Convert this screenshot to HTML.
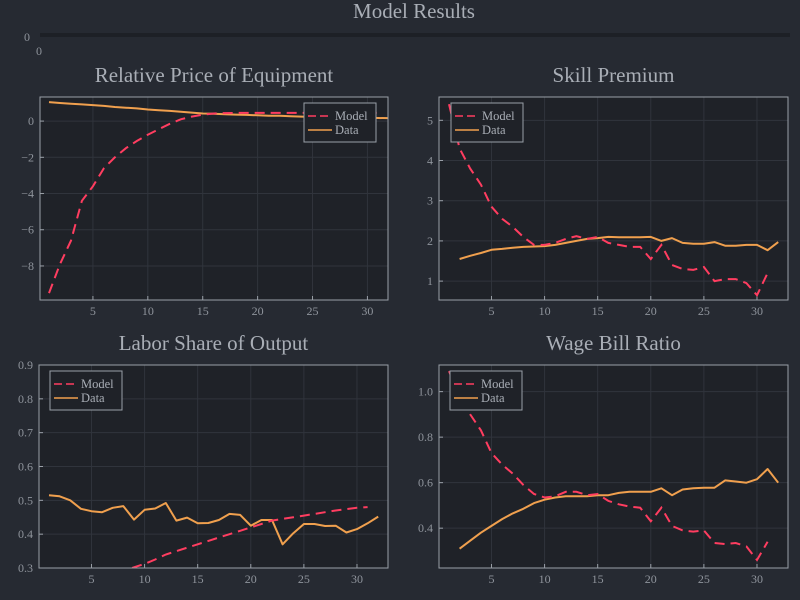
<!DOCTYPE html>
<html><head><meta charset="utf-8"><style>
body{margin:0;background:#262a32;}
svg{display:block;font-family:"Liberation Serif",serif;}
</style></head><body>
<svg id="c" width="800" height="600" viewBox="0 0 800 600">
<rect width="800" height="600" fill="#262a32"/>
<text x="414" y="18" font-size="21" fill="#a9aeb6" text-anchor="middle">Model Results</text>
<rect x="40" y="33" width="750" height="4" fill="#1d2026"/>
<text x="27" y="41" font-size="12" fill="#8f949c" text-anchor="middle">0</text>
<text x="39" y="55" font-size="12" fill="#8f949c" text-anchor="middle">0</text>
</svg>
<script>
const xTicks=[5,10,15,20,25,30];
const p1Model=[-9.5,-7.9,-6.6,-4.4,-3.6,-2.6,-2.0,-1.5,-1.1,-0.75,-0.45,-0.15,0.1,0.25,0.35,0.42,0.44,0.45,0.45,0.45,0.45,0.45,0.45,0.45,0.45,0.45,0.45,0.45,0.45,0.45,0.45];
const p1Data=[1.05,1.0,0.96,0.92,0.88,0.84,0.78,0.74,0.7,0.64,0.6,0.56,0.52,0.47,0.42,0.4,0.38,0.36,0.34,0.32,0.3,0.29,0.27,0.25,0.23,0.22,0.21,0.2,0.19,0.18,0.17,0.16];
const p1Ticks=[0,-2,-4,-6,-8];
const p2Model=[5.4,4.3,3.8,3.4,2.85,2.55,2.35,2.1,1.9,1.9,1.95,2.05,2.12,2.05,2.1,1.95,1.9,1.85,1.85,1.55,1.9,1.4,1.3,1.28,1.35,1.0,1.05,1.05,0.95,0.65,1.2];
const p2Data=[1.55,1.63,1.7,1.78,1.8,1.83,1.85,1.86,1.87,1.9,1.95,2.0,2.05,2.07,2.1,2.09,2.09,2.09,2.1,2.0,2.07,1.95,1.93,1.93,1.97,1.88,1.88,1.9,1.9,1.77,1.97];
const p2Ticks=[1,2,3,4,5];
const p3Model=[0.16,0.18,0.2,0.22,0.24,0.26,0.275,0.29,0.302,0.312,0.325,0.34,0.35,0.36,0.37,0.38,0.39,0.4,0.41,0.42,0.43,0.44,0.445,0.45,0.455,0.46,0.465,0.47,0.474,0.478,0.48];
const p3Data=[0.515,0.512,0.5,0.475,0.468,0.465,0.478,0.483,0.443,0.472,0.476,0.492,0.44,0.449,0.432,0.433,0.442,0.46,0.457,0.425,0.442,0.442,0.37,0.403,0.43,0.43,0.424,0.425,0.405,0.415,0.432,0.452];
const p3Ticks=[0.3,0.4,0.5,0.6,0.7,0.8,0.9];
const p4Model=[1.09,0.98,0.9,0.83,0.73,0.68,0.64,0.59,0.55,0.535,0.54,0.56,0.56,0.545,0.55,0.52,0.505,0.495,0.49,0.43,0.49,0.41,0.39,0.385,0.39,0.335,0.33,0.335,0.32,0.26,0.34];
const p4Data=[0.31,0.345,0.38,0.41,0.44,0.465,0.485,0.51,0.525,0.535,0.54,0.54,0.54,0.545,0.545,0.555,0.56,0.56,0.56,0.575,0.545,0.57,0.575,0.578,0.578,0.61,0.605,0.6,0.615,0.66,0.6];
const p4Ticks=[0.4,0.6,0.8,1.0];

const svg=document.getElementById('c');
const NS='http://www.w3.org/2000/svg';
function mk(t,a,parent){const e=document.createElementNS(NS,t);for(const k in a)e.setAttribute(k,a[k]);(parent||svg).appendChild(e);return e;}

function panel(o){
  const g=mk('g',{});
  
  
  const L=o.L,R=o.R,T=o.T,B=o.B;
  const sx=v=>o.x0+(v-1)*o.xs;
  const sy=v=>T+(o.ymax-v)/(o.ymax-o.ymin)*(B-T);
  const bg=mk('rect',{x:L,y:T,width:R-L,height:B-T,fill:'#1f2228'},g);
  
  
  const tt=mk('text',{x:(L+R)/2,y:T-15,'font-size':21,fill:'#a9aeb6','text-anchor':'middle'},g);
  tt.textContent=o.title;
  
  
  xTicks.forEach(v=>{
    const x=sx(v);
    mk('line',{x1:x,x2:x,y1:T,y2:B,stroke:'#30343c','stroke-width':1},g);
    mk('line',{x1:x,x2:x,y1:B,y2:B-4,stroke:'#9aa0a8','stroke-width':1},g);
    const t=mk('text',{x:x,y:B+15,'font-size':12,fill:'#8f949c','text-anchor':'middle'},g);
    t.textContent=v;
    
    
  });
  o.yt.forEach(v=>{
    const y=sy(v);
    mk('line',{x1:L,x2:R,y1:y,y2:y,stroke:'#30343c','stroke-width':1},g);
    mk('line',{x1:L,x2:L+4,y1:y,y2:y,stroke:'#9aa0a8','stroke-width':1},g);
    const t=mk('text',{x:L-6,y:y+4,'font-size':12,fill:'#8f949c','text-anchor':'end'},g);
    t.textContent=o.fmt(v);
    
    
  });
  const cid='clip'+o.name;
  const cp=mk('clipPath',{id:cid},g);mk('rect',{x:L,y:T,width:R-L,height:B-T},cp);
  const pts=(arr,start)=>arr.map((v,i)=>sx(start+i).toFixed(1)+','+sy(v).toFixed(1)).join(' ');
  const dl=mk('polyline',{points:pts(o.data,o.dStart),fill:'none',stroke:'#f0a04e','stroke-width':2,'stroke-linejoin':'round','clip-path':'url(#'+cid+')'},g);
  
  
  const ml=mk('polyline',{points:pts(o.model,1),fill:'none',stroke:'#ff3d60','stroke-width':2,'stroke-dasharray':'10,6','clip-path':'url(#'+cid+')'},g);
  
  
  mk('rect',{x:L,y:T,width:R-L,height:B-T,fill:'none',stroke:'#9aa0a8','stroke-width':1},g);
  const lg=mk('g',{},g);
  
  
  const lx=o.lx,ly=T+6;
  mk('rect',{x:lx,y:ly,width:72,height:39,fill:'#1f2228',stroke:'#9aa0a8','stroke-width':1},lg);
  mk('line',{x1:lx+4,x2:lx+28,y1:ly+13,y2:ly+13,stroke:'#ff3d60','stroke-width':1.5,'stroke-dasharray':'8,4'},lg);
  mk('line',{x1:lx+4,x2:lx+28,y1:ly+27,y2:ly+27,stroke:'#f0a04e','stroke-width':1.5},lg);
  const t1=mk('text',{x:lx+31,y:ly+17,'font-size':12.5,fill:'#a9aeb6'},lg);t1.textContent='Model';
  
  
  const t2=mk('text',{x:lx+31,y:ly+31,'font-size':12.5,fill:'#a9aeb6'},lg);t2.textContent='Data';
  
  
}
const f0=v=>(v<0?'\u2212'+(-v):''+v);
const f1=v=>v.toFixed(1);
panel({name:'relative-price-panel',title:'Relative Price of Equipment',L:40,R:388,T:97,B:300,x0:49,xs:10.98,ymin:-9.88,ymax:1.33,yt:p1Ticks,fmt:f0,model:p1Model,data:p1Data,dStart:1,lx:304});
panel({name:'skill-premium-panel',title:'Skill Premium',L:439,R:788,T:97,B:300,x0:449,xs:10.62,ymin:0.53,ymax:5.58,yt:p2Ticks,fmt:f0,model:p2Model,data:p2Data,dStart:2,lx:451});
panel({name:'labor-share-panel',title:'Labor Share of Output',L:39,R:388,T:365,B:568,x0:49,xs:10.62,ymin:0.3,ymax:0.9,yt:p3Ticks,fmt:f1,model:p3Model,data:p3Data,dStart:1,lx:50});
panel({name:'wage-bill-panel',title:'Wage Bill Ratio',L:439,R:788,T:365,B:568,x0:449,xs:10.62,ymin:0.225,ymax:1.117,yt:p4Ticks,fmt:f1,model:p4Model,data:p4Data,dStart:2,lx:450});
</script>
</body></html>
